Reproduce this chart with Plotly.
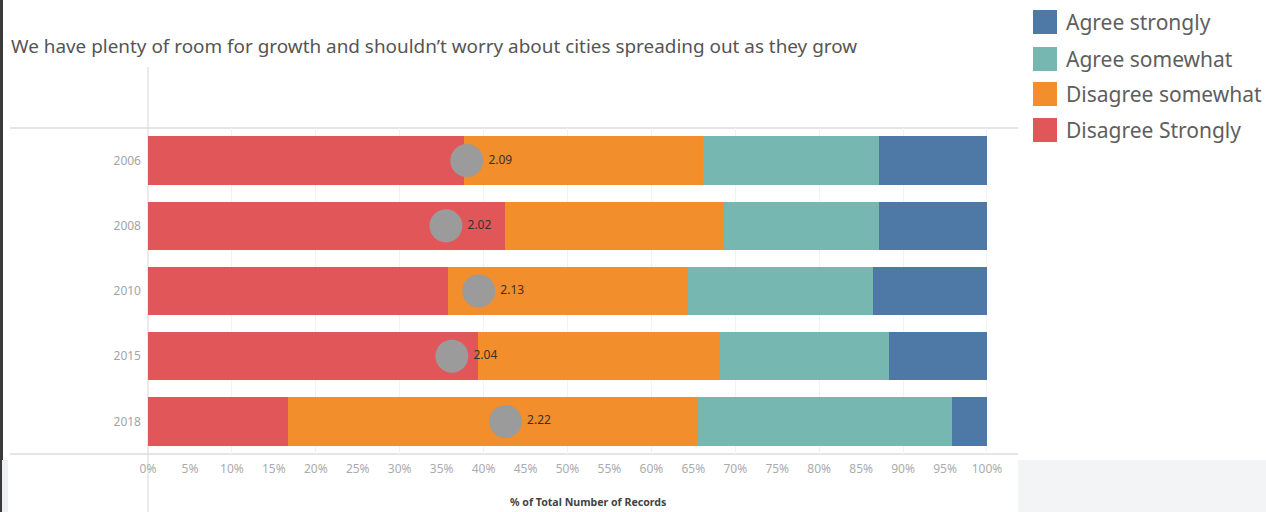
import plotly.graph_objects as go

# ---- data ----
years = ["2006", "2008", "2010", "2015", "2018"]
disagree_strongly = [37.7, 42.6, 35.8, 39.3, 16.7]
disagree_somewhat = [28.5, 26.1, 28.6, 28.9, 48.7]
agree_somewhat = [20.9, 18.4, 22.0, 20.1, 30.4]
agree_strongly = [12.9, 12.9, 13.6, 11.7, 4.2]
mean_score = [2.09, 2.02, 2.13, 2.04, 2.22]
mean_labels = ["2.09", "2.02", "2.13", "2.04", "2.22"]
x_ticks = list(range(0, 101, 5))
x_tick_text = [f"{v}%" for v in x_ticks]

series = [
    ("Disagree Strongly", disagree_strongly, "#e15759"),
    ("Disagree somewhat", disagree_somewhat, "#f28e2b"),
    ("Agree somewhat", agree_somewhat, "#76b7b2"),
    ("Agree strongly", agree_strongly, "#4e79a7"),
]
legend_order = ["Agree strongly", "Agree somewhat", "Disagree somewhat", "Disagree Strongly"]

FONT = "Noto Sans"
fig = go.Figure()

# invisible trace so the 10% gridline axis is drawn
fig.add_trace(go.Scatter(x=[0], y=[years[0]], xaxis="x3", mode="markers",
                         marker=dict(opacity=0), hoverinfo="skip", showlegend=False))

for name, vals, col in series:
    fig.add_trace(go.Bar(y=years, x=vals, name=name, orientation="h",
                         marker=dict(color=col, line=dict(width=0)),
                         width=0.74, showlegend=False))

fig.add_trace(go.Scatter(x=mean_score, y=years, xaxis="x2", mode="markers+text",
                         marker=dict(size=33, color="#9b9b9b"),
                         text=mean_labels, textposition="middle right",
                         textfont=dict(size=12, color="#333333", family=FONT),
                         showlegend=False, cliponaxis=False))

X_MAX = 103.58
fig.update_layout(
    width=1266, height=512,
    margin=dict(l=148, r=249, t=128, b=58),
    paper_bgcolor="white", plot_bgcolor="white",
    barmode="stack",
    font=dict(family=FONT),
    xaxis=dict(range=[0, X_MAX], tickvals=x_ticks, ticktext=x_tick_text,
               showgrid=False, zeroline=False, showline=False,
               tickfont=dict(size=12, color="#ababab", family=FONT),
               ticks="", ticklabelstandoff=6),
    xaxis2=dict(range=[1.02, 3.937], overlaying="x", side="top",
                visible=False, showgrid=False),
    xaxis3=dict(range=[0, X_MAX], overlaying="x", dtick=10, tick0=0,
                showgrid=True, gridcolor="#f2f2f2", gridwidth=1,
                showticklabels=False, zeroline=False, ticks=""),
    yaxis=dict(categoryorder="array", categoryarray=years,
               range=[len(years) - 0.5, -0.5], autorange=False,
               showgrid=False, zeroline=False, ticks="",
               tickfont=dict(size=12, color="#a4a4a4", family=FONT),
               ticklabelstandoff=6),
)

PW, PH = 869.0, 326.0
def px_x(p):
    return (p - 148) / PW
def px_y(p):
    return (454 - p) / PH

shapes = []
# left dark strip
shapes.append(dict(type="rect", xref="paper", yref="paper", x0=px_x(0), x1=px_x(3),
                   y0=px_y(0), y1=px_y(460), fillcolor="#3a3a3a", line=dict(width=0), layer="above"))
shapes.append(dict(type="rect", xref="paper", yref="paper", x0=px_x(0), x1=px_x(2),
                   y0=px_y(460), y1=px_y(512), fillcolor="#3a3a3a", line=dict(width=0), layer="above"))
shapes.append(dict(type="rect", xref="paper", yref="paper", x0=px_x(2), x1=px_x(8),
                   y0=px_y(460), y1=px_y(512), fillcolor="#eef0f2", line=dict(width=0), layer="above"))
# bottom-right grey block
shapes.append(dict(type="rect", xref="paper", yref="paper", x0=px_x(1018), x1=px_x(1266),
                   y0=px_y(460), y1=px_y(512), fillcolor="#f3f4f6", line=dict(width=0), layer="above"))
# horizontal rules
for yy in (128, 454):
    shapes.append(dict(type="line", xref="paper", yref="paper", x0=px_x(10), x1=px_x(1018),
                       y0=px_y(yy), y1=px_y(yy), line=dict(color="#dcdcdc", width=1.5), layer="below"))
# vertical rule at 0%
shapes.append(dict(type="line", xref="paper", yref="paper", x0=0, x1=0,
                   y0=px_y(67), y1=px_y(512), line=dict(color="#dcdcdc", width=1.2), layer="below"))

# legend
legend_colors = {n: c for n, _, c in series}
legend_rows = [22, 59, 94, 130]
annotations = []
for name, yy in zip(legend_order, legend_rows):
    shapes.append(dict(type="rect", xref="paper", yref="paper",
                       x0=px_x(1033), x1=px_x(1057), y0=px_y(yy + 12), y1=px_y(yy - 12),
                       fillcolor=legend_colors[name], line=dict(width=0)))
    annotations.append(dict(xref="paper", yref="paper", x=px_x(1064), y=px_y(yy),
                            xanchor="left", yanchor="middle", showarrow=False, text=name,
                            font=dict(size=21, color="#5e5e5e", family=FONT)))

annotations.append(dict(xref="paper", yref="paper", x=px_x(9), y=px_y(46),
                        xanchor="left", yanchor="middle", showarrow=False,
                        text="We have plenty of room for growth and shouldn\u2019t worry about cities spreading out as they grow",
                        font=dict(size=18.9, color="#555555", family=FONT)))
annotations.append(dict(xref="paper", yref="paper", x=px_x(588), y=px_y(502),
                        xanchor="center", yanchor="middle", showarrow=False,
                        text="<b>% of Total Number of Records</b>",
                        font=dict(size=10.6, color="#444444", family=FONT)))

fig.update_layout(shapes=shapes, annotations=annotations)
fig.write_html("out.html", config={"displayModeBar": False},
               post_script="document.body.style.margin='0';document.body.style.overflow='hidden';")
